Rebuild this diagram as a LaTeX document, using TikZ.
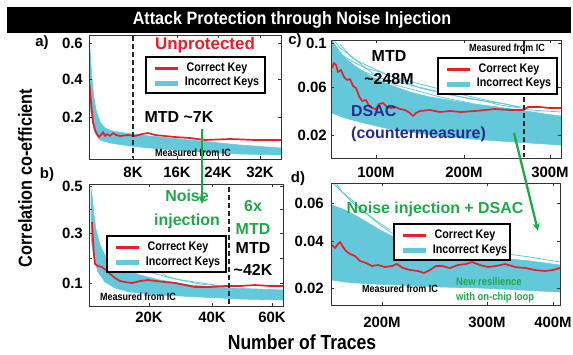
\documentclass[tikz,border=0pt]{standalone}
\usepackage{fontspec}
\setmainfont{Liberation Sans}
\newfontfamily\narrowfont{Liberation Sans}[FakeStretch=0.86]
\newfontfamily\titlefont{Liberation Sans}[FakeStretch=0.9]
\usetikzlibrary{arrows.meta}

\definecolor{keyred}{RGB}{232,30,40}
\definecolor{keycyan}{RGB}{98,200,218}
\definecolor{noisegreen}{RGB}{28,170,72}
\definecolor{dsacblue}{RGB}{42,42,140}

% one legend: corner x, corner y, name, width
\newcommand{\keylegend}[4]{
  \begin{scope}[shift={(#1,#2)}]
    \draw[legframe] (0,0) rectangle (#4,36);
    \draw[keyred, line width=3bp] (9,11) -- (32,11);
    \draw[keycyan, line width=5bp] (9,26) -- (32,26);
    \node[legtext] (#3_ck) at (71,11) {Correct Key};
    \node[legtext] (#3_ik) at (76,26) {Incorrect Keys};
  \end{scope}
}

\begin{document}
\begin{tikzpicture}[x=1bp,y=-1bp]
    \tikzstyle{legframe}=[draw=black, line width=1.2bp, fill=white]
    \tikzstyle{legtext}=[font=\narrowfont\bfseries\fontsize{12.5}{12.5}\selectfont, inner sep=0pt]
    \tikzstyle{ticklbl}=[font=\bfseries\fontsize{15}{15}\selectfont, inner sep=0pt]
    \tikzstyle{bigtxt}=[font=\bfseries\fontsize{16}{23}\selectfont, inner sep=0pt]
    \tikzstyle{measured}=[font=\narrowfont\bfseries\fontsize{10.5}{10.5}\selectfont, inner sep=0pt]
    \tikzstyle{frame}=[draw=black!80, line width=1bp]
    \tikzstyle{mtdline}=[black!85, line width=1.8bp, dash pattern=on 5bp off 3bp]
    \tikzstyle{band}=[fill=keycyan, draw=keycyan, line width=0.6bp]
    \tikzstyle{stray}=[keycyan, line width=0.8bp]
    \tikzstyle{corr}=[keyred, line width=1.7bp, line join=round]
    \tikzstyle{greenarrow}=[noisegreen, line width=2.3bp, -{Stealth[length=8bp,width=7bp]}]

    \useasboundingbox (0,0) rectangle (573,354);

    % title bar
    \fill[black] (7,7) rectangle (571,33);
    \node[text=white, font=\titlefont\bfseries\fontsize{18}{18}\selectfont] (title) at (292,20) {Attack Protection through Noise Injection};

    % axis names
    \node[rotate=90, font=\narrowfont\bfseries\fontsize{19}{19}\selectfont] (ylab) at (25,178) {Correlation co-efficient};
    \node[font=\narrowfont\bfseries\fontsize{20.5}{20.5}\selectfont] (xlab) at (302,342) {Number of Traces};

    % ---------------- a) unprotected
    \begin{scope}
      \clip (89,35) rectangle (281,159);
      \fill[band] plot coordinates {(89,35) (90,50) (91,65) (92,80) (94,98) (96,110) (100,122) (105,128) (112,131) (125,133) (140,135) (170,138) (200,141) (240,145) (281,148)
        (281,155) (240,154) (200,152) (160,149) (130,146) (110,143) (100,140) (95,133) (92,120) (90,105) (89,95)} -- cycle;
      \draw[corr] plot coordinates {(89,81) (90,90) (91,102) (92,112) (93,122) (95,130) (97,134) (99,137) (101,135) (103,132) (105,136) (107,134) (110,136) (113,133) (116,135) (120,136) (128,135) (135,136) (142,134) (148,133) (155,135) (165,136) (175,137) (190,138) (205,140) (230,139) (255,140) (281,140)};
    \end{scope}
    \draw[frame] (89,35) rectangle (281,159);
    \foreach \y/\l [count=\i] in {43/0.6,79/0.4,117/0.2} {
      \draw[frame] (89,\y) -- +(3,0) (281,\y) -- +(-3,0);
      \node[ticklbl, anchor=east] (ya_\i) at (83,\y) {\l};
    }
    \foreach \x/\l [count=\i] in {133/8K,177/16K,218/24K,260/32K} {
      \draw[frame] (\x,159) -- +(0,-3) (\x,35) -- +(0,3);
      \node[ticklbl] (xa_\i) at (\x,172) {\l};
    }
    \draw[mtdline] (133,36) -- (133,158);
    \node[ticklbl] (lbl_a) at (42,43) {a)};
    \node[font=\bfseries\fontsize{17}{17}\selectfont, text=keyred, inner sep=0pt] (unprot) at (205,45) {Unprotected};
    \keylegend{146}{57}{leg_a}{119}
    \node[bigtxt] (mtd_a) at (179,117) {MTD \textasciitilde7K};
    \node[measured] (ic_a) at (193,153) {Measured from IC};

    % ---------------- b) noise injection
    \begin{scope}
      \clip (89,184) rectangle (283,306);
      \fill[band] plot coordinates {(91,188) (92,195) (94,215) (96,230) (100,245) (105,255) (112,263) (125,270) (140,275) (160,280) (190,285) (230,288) (283,290)
        (283,300) (240,299) (200,297) (160,295) (130,292) (115,288) (105,282) (98,272) (94,258) (92,245) (91,235)} -- cycle;
      \draw[stray] plot coordinates {(120,265) (135,270) (150,273) (158,270) (166,276) (180,280) (200,284) (220,286)};
      \draw[stray] plot coordinates {(130,268) (145,271) (160,275) (175,279) (195,282) (215,285)};
      \draw[corr] plot coordinates {(92,222) (93,240) (94,255) (95,264) (98,266) (102,267) (106,270) (110,274) (115,278) (120,281) (125,282) (132,283) (140,281) (148,280) (156,281) (165,282) (175,283) (185,285) (195,287) (210,287) (225,286) (240,286) (255,285) (270,286) (283,286)};
    \end{scope}
    \draw[frame] (89,184) rectangle (283,306);
    \foreach \y in {186,209,233,258,283} {
      \draw[frame] (89,\y) -- +(3,0) (283,\y) -- +(-3,0);
    }
    \foreach \y/\l [count=\i] in {186/0.5,233/0.3,283/0.1} {
      \node[ticklbl, anchor=east] (yb_\i) at (83,\y) {\l};
    }
    \foreach \x/\l [count=\i] in {149/20K,212/40K,272/60K} {
      \draw[frame] (\x,306) -- +(0,-3) (\x,184) -- +(0,3);
      \node[ticklbl] (xb_\i) at (\x,317) {\l};
    }
    \draw[mtdline] (229,187) -- (229,305);
    \node[ticklbl] (lbl_b) at (47,175) {b)};
    \node[bigtxt, text=noisegreen, align=center, font=\bfseries\fontsize{16}{24}\selectfont] (noise_b) at (187,209) {Noise\\injection};
    \node[bigtxt, text=noisegreen, align=center] (six_b) at (253,217) {6x\\MTD};
    \node[bigtxt, align=center, font=\bfseries\fontsize{16}{22}\selectfont] (mtd_b) at (253,259) {MTD\\\textasciitilde42K};
    \keylegend{107}{236}{leg_b}{119}
    \node[measured] (ic_b) at (138,297) {Measured from IC};

    % ---------------- c) DSAC
    \begin{scope}
      \clip (331,40) rectangle (561,158);
      \fill[band] plot coordinates {(332,40) (338,50) (345,58) (355,66) (370,76) (390,85) (410,92) (430,97) (460,102) (490,106) (520,110) (545,114) (561,116)
        (561,145) (530,143) (500,141) (470,139) (440,136) (410,132) (385,128) (360,122) (345,118) (332,113)} -- cycle;
      \draw[stray] plot coordinates {(332,43) (336,46) (342,55) (350,60) (365,68) (380,72) (400,80) (420,88) (450,95) (480,100) (500,105) (520,108)};
      \draw[stray] plot coordinates {(334,40) (340,48) (350,55) (362,65) (375,75) (395,85) (415,90) (440,97) (470,103)};
      \draw[stray] plot coordinates {(360,70) (380,78) (410,85) (440,92) (470,99) (505,104) (530,110) (561,112)};
      \draw[stray] plot coordinates {(340,44) (352,58) (368,66) (390,76) (420,84) (455,93) (490,101) (520,107)};
      \draw[corr] plot coordinates {(332,68) (334,63) (336,65) (338,72) (341,70) (344,77) (347,80) (350,79) (353,86) (356,88) (359,96) (362,101) (366,100) (369,106) (372,108) (376,109) (379,104) (383,103) (387,107) (391,108) (395,107) (400,109) (405,110) (410,113) (413,116) (416,113) (420,111) (430,110) (440,112) (450,111) (461,112) (475,111) (495,109) (510,110) (523,110) (528,107) (540,107) (550,108) (561,108)};
    \end{scope}
    \draw[frame] (331,40) rectangle (561,158);
    \foreach \y/\l [count=\i] in {43/0.1,87/0.06,135/0.02} {
      \draw[frame] (331,\y) -- +(3,0) (561,\y) -- +(-3,0);
      \node[ticklbl, anchor=east] (yc_\i) at (327,\y) {\l};
    }
    \foreach \x/\l [count=\i] in {376/100M,464/200M,550/300M} {
      \draw[frame] (\x,158) -- +(0,-3) (\x,40) -- +(0,3);
      \node[ticklbl] (xc_\i) at (\x,172) {\l};
    }
    \draw[mtdline] (524,41) -- (524,157);
    \node[ticklbl] (lbl_c) at (295,41) {c)};
    \node[measured] (ic_c) at (507,48) {Measured from IC};
    \node[bigtxt, align=center] (mtd_c) at (389,68) {MTD\\\textasciitilde248M};
    \keylegend{438}{58}{leg_c}{119}
    \node[bigtxt, text=dsacblue, align=left, font=\bfseries\fontsize{16}{22}\selectfont, anchor=west] (dsac_c) at (351,124) {DSAC\\(countermeasure)};

    % ---------------- d) noise injection + DSAC
    \begin{scope}
      \clip (331,183) rectangle (560,305);
      \fill[band] plot coordinates {(332,205) (345,210) (360,218) (380,230) (400,240) (420,245) (445,250) (470,255) (500,258) (530,261) (560,265)
        (560,292) (520,290) (480,288) (440,287) (400,285) (370,284) (345,282) (332,280)} -- cycle;
      \draw[stray] plot coordinates {(333,183) (338,188) (345,195) (355,205) (368,215) (380,225) (395,235) (410,242)};
      \draw[stray] plot coordinates {(336,183) (342,192) (352,200) (365,212) (378,222) (390,230)};
      \draw[stray] plot coordinates {(470,251) (500,253) (530,257) (560,262)};
      \draw[corr] plot coordinates {(332,245) (335,248) (338,244) (340,242) (343,247) (346,251) (350,254) (355,256) (360,261) (366,263) (372,266) (378,265) (385,267) (392,266) (397,264) (403,268) (410,270) (418,271) (424,273) (430,270) (436,266) (442,266) (450,268) (458,265) (466,264) (472,262) (480,265) (488,267) (496,266) (505,264) (515,267) (525,268) (535,270) (545,271) (553,270) (560,268)};
    \end{scope}
    \draw[frame] (331,183) rectangle (560,305);
    \foreach \y/\l [count=\i] in {203/0.06,241/0.04,288/0.02} {
      \draw[frame] (331,\y) -- +(3,0) (560,\y) -- +(-3,0);
      \node[ticklbl, anchor=east] (yd_\i) at (324,\y) {\l};
    }
    \foreach \x/\l [count=\i] in {382/200M,487/300M,553/400M} {
      \draw[frame] (\x,305) -- +(0,-3) (\x,183) -- +(0,3);
      \node[ticklbl] (xd_\i) at (\x,322) {\l};
    }
    \node[ticklbl] (lbl_d) at (298,179) {d)};
    \node[bigtxt, text=noisegreen] (noise_d) at (435,209) {Noise injection + DSAC};
    \keylegend{394}{224}{leg_d}{116}
    \node[measured] (ic_d) at (400,289) {Measured from IC};
    \node[text=noisegreen, align=left, anchor=west, inner sep=0pt, font=\narrowfont\bfseries\fontsize{11}{15}\selectfont] (onchip_d) at (456,290) {New resilience\\with on-chip loop};

    % arrows between panels
    \coordinate (noise_top) at (202,129);
    \coordinate (noise_end) at (202,204);
    \draw[greenarrow] (noise_top) -- (noise_end);
    \coordinate (dsac_top) at (514,133);
    \coordinate (dsac_end) at (538,231);
    \draw[greenarrow] (dsac_top) -- (dsac_end);
\end{tikzpicture}
\end{document}
